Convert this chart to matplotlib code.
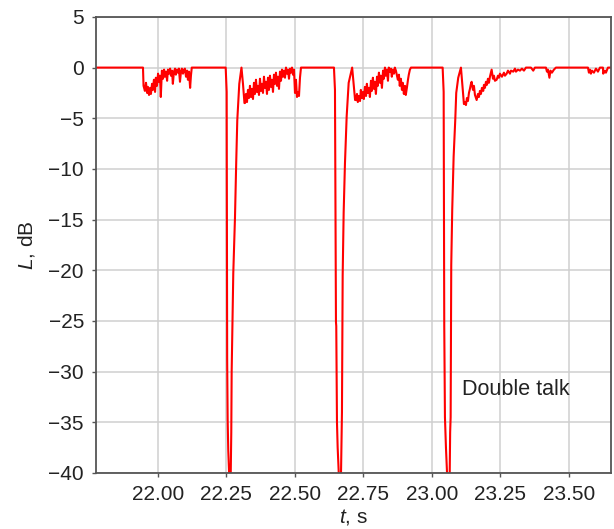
import matplotlib
matplotlib.use("Agg")
import matplotlib.pyplot as plt

plt.rcParams['font.family'] = ['Liberation Sans', 'DejaVu Sans']
plt.rcParams['mathtext.fontset'] = 'custom'
plt.rcParams['mathtext.it'] = 'Liberation Sans:italic'
plt.rcParams['mathtext.rm'] = 'Liberation Sans'

# ---- data: (time s, level dB) ----
lead_in = [(21.770, 0.0)]

noise_1 = [(21.946, 0), (21.948, -1.8), (21.953, -2.3), (21.957, -1.5), (21.961, -2.5),
           (21.964, -1.9), (21.968, -2.7), (21.972, -2.0), (21.975, -2.6), (21.979, -1.6),
           (21.982, -2.2), (21.986, -1.2), (21.990, -2.4), (21.993, -1.0), (21.997, -1.8),
           (22.001, -0.6), (22.004, -1.4), (22.008, -0.8), (22.011, -2.9), (22.014, -0.9),
           (22.015, -0.3), (22.019, -1.1), (22.023, -0.2), (22.026, -0.9), (22.030, -0.4),
           (22.034, -1.3), (22.037, -0.2), (22.041, -0.6), (22.045, -0.1), (22.048, -0.8),
           (22.052, -0.3), (22.055, -1.6), (22.059, -0.4), (22.063, -0.1), (22.066, -0.7),
           (22.070, -0.2), (22.074, -0.5), (22.077, -0.1), (22.081, -1.4), (22.085, -0.3),
           (22.088, -0.1), (22.092, -0.6), (22.096, -0.2), (22.099, -0.1), (22.103, -0.9),
           (22.107, -0.3), (22.110, -1.2), (22.114, -0.4), (22.118, -2.0), (22.121, -0.8),
           (22.124, 0)]

dip_1 = [(22.2478, 0), (22.2514, -2.4), (22.2532, -28.8), (22.2550, -34.8), (22.2572, -37.8),
         (22.2609, -40.5), (22.2660, -40.5), (22.2682, -36.0), (22.2696, -30.0),
         (22.2755, -20.3), (22.2817, -14.8), (22.2861, -9.5), (22.2901, -5.2),
         (22.2974, -1.6), (22.3054, 0), (22.3109, -1.6), (22.3163, -3.5)]

noise_2 = [(22.3182, -3.5), (22.3218, -2.6), (22.3255, -3.4), (22.3291, -2.2), (22.3328, -3.0),
           (22.3364, -1.8), (22.3401, -2.9), (22.3437, -2.1), (22.3474, -3.1), (22.3510, -1.5),
           (22.3547, -2.6), (22.3583, -1.2), (22.3620, -2.4), (22.3656, -1.8), (22.3693, -2.7),
           (22.3729, -1.1), (22.3766, -2.3), (22.3802, -1.6), (22.3839, -2.5), (22.3875, -0.9),
           (22.3912, -2.0), (22.3948, -1.4), (22.3985, -2.6), (22.4021, -1.0), (22.4058, -2.2),
           (22.4094, -0.8), (22.4131, -1.9), (22.4167, -1.2), (22.4204, -2.4), (22.4240, -0.7),
           (22.4277, -1.6), (22.4313, -0.5), (22.4350, -1.8), (22.4386, -0.9), (22.4423, -2.1),
           (22.4459, -0.4), (22.4496, -1.3), (22.4532, -0.2), (22.4569, -0.9), (22.4605, -0.3),
           (22.4642, -1.0), (22.4678, 0), (22.4715, -0.6), (22.4751, -0.2), (22.4788, -1.1),
           (22.4824, -0.1), (22.4861, -0.5), (22.4897, 0), (22.4934, -0.7), (22.4970, -0.2),
           (22.5007, -2.5), (22.5043, -1.2), (22.5080, -2.9), (22.5116, -2.4), (22.5153, -2.8),
           (22.5189, -1.0), (22.5226, 0)]

dip_2 = [(22.6429, 0), (22.6466, -2.2), (22.6502, -25.1), (22.6513, -25.5), (22.6539, -35.0),
         (22.6564, -37.5), (22.6612, -40.5), (22.6684, -40.5), (22.6710, -36.2), (22.6721, -34.0),
         (22.6747, -20.5), (22.6783, -14.3), (22.6830, -9.5), (22.6893, -4.8), (22.6966, -1.5),
         (22.7093, 0), (22.7140, -1.4), (22.7200, -3.2)]

noise_3 = [(22.723, -3.2), (22.727, -2.6), (22.730, -3.4), (22.734, -2.8), (22.738, -3.3),
           (22.741, -2.2), (22.745, -3.0), (22.749, -2.4), (22.752, -3.1), (22.756, -1.9),
           (22.760, -2.8), (22.763, -1.6), (22.767, -2.5), (22.771, -2.0), (22.774, -2.9),
           (22.778, -1.3), (22.781, -2.3), (22.785, -1.0), (22.789, -2.1), (22.792, -1.4),
           (22.796, -2.6), (22.800, -0.9), (22.803, -1.8), (22.807, -0.5), (22.811, -1.5),
           (22.814, -0.8), (22.818, -2.0), (22.822, -0.3), (22.825, -1.1), (22.829, 0),
           (22.832, -0.8), (22.836, -0.2), (22.840, -1.3), (22.843, 0), (22.847, -0.4),
           (22.851, -0.1), (22.854, -0.9), (22.858, -0.2), (22.862, -0.6), (22.865, 0),
           (22.869, -0.3), (22.873, -0.8), (22.876, -1.2), (22.880, -0.7), (22.883, -1.8),
           (22.887, -1.1), (22.891, -2.2), (22.894, -1.5), (22.898, -2.6), (22.902, -1.8),
           (22.905, -2.7), (22.909, -2.0), (22.913, -1.2), (22.916, -0.7), (22.920, -0.2),
           (22.924, 0)]

dip_3 = [(23.0395, 0), (23.0432, -2.4), (23.0454, -25.5), (23.0479, -34.5), (23.0516, -37.5),
         (23.0563, -40.5), (23.0651, -40.5), (23.0669, -36.0), (23.0687, -34.5),
         (23.0709, -19.5), (23.0745, -14.0), (23.0796, -8.8), (23.0855, -5.2),
         (23.0891, -2.5), (23.0964, -1.0), (23.1063, 0), (23.1110, -1.5), (23.1172, -3.6)]

noise_4 = [(23.1209, -3.4), (23.1245, -3.7), (23.1282, -3.0), (23.1318, -3.3), (23.1355, -2.5),
           (23.1391, -2.1), (23.1428, -1.6), (23.1453, -1.4), (23.1501, -2.2), (23.1537, -1.8),
           (23.1574, -2.7), (23.1636, -3.2), (23.1683, -2.6), (23.1720, -2.9), (23.1756, -2.3),
           (23.1793, -2.6), (23.1829, -2.0), (23.1877, -2.3), (23.1902, -1.7), (23.1939, -2.0),
           (23.1975, -1.4), (23.2012, -1.7), (23.2048, -1.1), (23.2085, -1.5), (23.2121, -0.9),
           (23.2183, -0.2), (23.2231, -1.1), (23.2267, -0.8), (23.2304, -1.3), (23.2366, -1.2),
           (23.2413, -0.8), (23.2450, -1.0), (23.2486, -0.6), (23.2559, -0.9), (23.2632, -0.5),
           (23.2669, -0.8), (23.2731, -0.6), (23.2778, -0.3), (23.2851, -0.6), (23.2888, -0.3),
           (23.2972, -0.4), (23.3034, -0.1), (23.3070, -0.4), (23.3143, -0.2), (23.3216, -0.3),
           (23.3289, -0.1), (23.3362, -0.3), (23.3435, 0), (23.3618, 0), (23.3701, -0.3),
           (23.3763, 0), (23.4165, 0), (23.4201, -0.4), (23.4238, -0.2), (23.4292, -1.0),
           (23.4329, -0.3), (23.4383, -0.5), (23.4456, -0.2), (23.4529, 0), (23.5697, 0),
           (23.5733, -0.5), (23.5770, -0.2), (23.5806, -0.6), (23.5843, -0.3), (23.5916, -0.5),
           (23.5989, -0.1), (23.6062, -0.4), (23.6135, 0), (23.6244, 0), (23.6255, -0.6),
           (23.6317, -0.3), (23.6354, -0.5), (23.6427, 0), (23.6573, 0)]

segments = [lead_in, noise_1, dip_1, noise_2, dip_2, noise_3, dip_3, noise_4]

x_ticks = [22.00, 22.25, 22.50, 22.75, 23.00, 23.25, 23.50]
x_tick_labels = ["22.00", "22.25", "22.50", "22.75", "23.00", "23.25", "23.50"]
y_ticks = [5, 0, -5, -10, -15, -20, -25, -30, -35, -40]
annotation = "Double talk"

# ---- plot ----
points = [p for seg in segments for p in seg]
t_values = [p[0] for p in points]
level_values = [p[1] for p in points]

fig = plt.figure(figsize=(6.14, 5.29), dpi=100)
ax = fig.add_axes([0.157, 0.106, 0.8375, 0.862])

ax.plot(t_values, level_values, color='#ff0000', lw=1.5, solid_joinstyle='round')

ax.set_xlim(21.776, 23.6525)
ax.set_ylim(-40, 5)
ax.set_xticks(x_ticks)
ax.set_xticklabels(x_tick_labels)
ax.set_yticks(y_ticks)
ax.grid(True, color='#cfcfcf', lw=1.1)
ax.set_axisbelow(True)
for s in ax.spines.values():
    s.set_color('#555555')
    s.set_linewidth(1.3)
ax.tick_params(axis='both', labelsize=15, colors='#555555', labelcolor='#222222',
               length=3, width=1, pad=6)

ax.set_xlabel(r'$\mathit{t}$, s', fontsize=15, color='#222222', labelpad=2)
ax.set_ylabel(r'$\mathit{L}$, dB', fontsize=15, color='#222222', labelpad=8)

ax.text(23.109, -31.8, annotation, fontsize=15.5, color='#222222', ha='left', va='center')

fig.savefig('out.png', dpi=100)
